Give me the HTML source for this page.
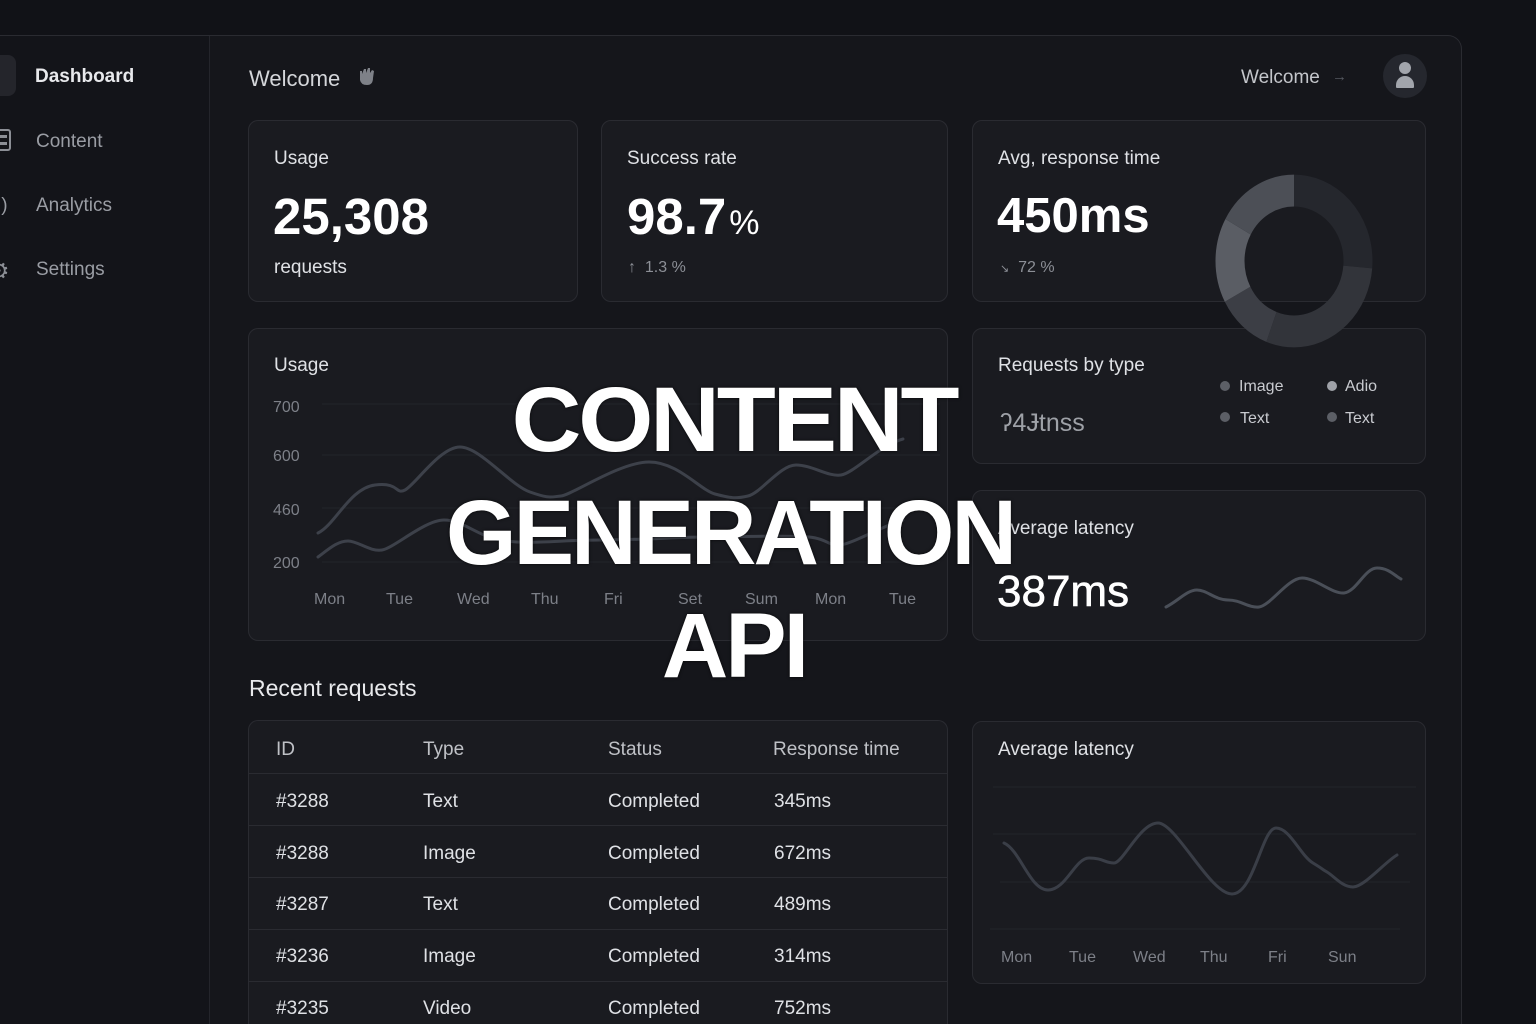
<!DOCTYPE html>
<html><head><meta charset="utf-8"><style>
*{margin:0;padding:0;box-sizing:border-box}
html,body{width:1536px;height:1024px;overflow:hidden}
body{background:#111217;font-family:"Liberation Sans",sans-serif}
#root{position:relative;width:1536px;height:1024px;background:#111217;overflow:hidden}
.abs{position:absolute;white-space:nowrap}
.panel{position:absolute;left:-20px;top:35px;width:1482px;height:989px;background:#15161b;border:1px solid #2a2b31;border-bottom:none;border-radius:14px 14px 0 0}
.side{position:absolute;left:0;top:36px;width:210px;height:988px;background:#131419;border-right:1px solid #24252b}
.card{position:absolute;background:#1a1b20;border:1px solid #2a2b31;border-radius:10px}
.t{color:#dfe1e5;font-size:19px}
.g{color:#8c8f96}
.ax{color:#7d8088;font-size:16px}
.big{color:#fff;font-weight:bold}
.title{position:absolute;left:0;text-align:center;color:#fff;font-weight:bold;font-size:92px;letter-spacing:-3px;line-height:1;text-shadow:0 0 3px rgba(0,0,0,.8)}
.row{position:absolute;left:248px;width:699px;height:1px;background:#2a2b31}
</style></head><body><div id="root">
<div class="panel"></div>
<div class="side"></div>
<!-- sidebar -->
<div class="abs" style="left:-10px;top:55px;width:26px;height:41px;background:#24252b;border-radius:8px"></div>
<div class="abs" style="left:35px;top:66px;font-size:19px;font-weight:bold;color:#e8e9ec">Dashboard</div>
<div class="abs" style="left:-6px;top:129px;width:17px;height:22px;border:2px solid #8c8f96;border-radius:3px"></div>
<div class="abs" style="left:-2px;top:135px;width:9px;height:3px;background:#8c8f96"></div>
<div class="abs" style="left:-2px;top:142px;width:9px;height:3px;background:#8c8f96"></div>
<div class="abs" style="left:36px;top:131px;font-size:19px;color:#9a9da4">Content</div>
<div class="abs" style="left:-3px;top:195px;font-size:19px;color:#9a9da4">l)</div>
<div class="abs" style="left:36px;top:195px;font-size:19px;color:#9a9da4">Analytics</div>
<div class="abs" style="left:-12px;top:257px;font-size:24px;color:#8c8f96">⚙</div>
<div class="abs" style="left:36px;top:259px;font-size:19px;color:#9a9da4">Settings</div>
<!-- header -->
<div class="abs" style="left:249px;top:66px;font-size:22px;color:#d4d6da">Welcome</div>
<svg class="abs" style="left:356px;top:66px" width="22" height="22" viewBox="0 0 22 22"><path d="M4 8 L4 5 L6 5 L6 8 L8 3 L10 3 L10 7 L12 2 L14 2 L14 7 L16 4 L18 5 L17 12 Q17 19 11 19 Q5 19 4 14 Z" fill="#7e8188"/></svg>
<div class="abs" style="left:1241px;top:67px;font-size:19px;color:#c4c6cb">Welcome</div>
<div class="abs" style="left:1332px;top:68px;font-size:15px;color:#555860">→</div>
<div class="abs" style="left:1383px;top:54px;width:44px;height:44px;border-radius:50%;background:#25272e"></div>
<div class="abs" style="left:1399px;top:62px;width:12px;height:12px;border-radius:50%;background:#a2a5ac"></div>
<div class="abs" style="left:1396px;top:76px;width:18px;height:12px;border-radius:9px 9px 1px 1px;background:#a2a5ac"></div>
<!-- top cards -->
<div class="card" style="left:248px;top:120px;width:330px;height:182px"></div>
<div class="abs t" style="left:274px;top:148px">Usage</div>
<div class="abs big" style="left:273px;top:187px;font-size:51px">25,308</div>
<div class="abs t" style="left:274px;top:257px">requests</div>
<div class="card" style="left:601px;top:120px;width:347px;height:182px"></div>
<div class="abs t" style="left:627px;top:148px">Success rate</div>
<div class="abs big" style="left:627px;top:187px;font-size:51px">98.7<span style="font-size:34px;font-weight:normal;margin-left:3px">%</span></div>
<div class="abs g" style="left:628px;top:259px;font-size:16px">↑&nbsp; 1.3 %</div>
<div class="card" style="left:972px;top:120px;width:454px;height:182px"></div>
<div class="abs t" style="left:998px;top:148px">Avg, response time</div>
<div class="abs big" style="left:997px;top:188px;font-size:49px">450ms</div>
<div class="abs g" style="left:1000px;top:259px;font-size:16px"><span style="font-size:11px">↘</span>&nbsp; 72 %</div>
<!-- usage chart -->
<div class="card" style="left:248px;top:328px;width:700px;height:313px"></div>
<div class="abs t" style="left:274px;top:355px">Usage</div>
<div class="abs ax" style="left:273px;top:399px">700</div>
<div class="abs ax" style="left:273px;top:448px">600</div>
<div class="abs ax" style="left:273px;top:502px">460</div>
<div class="abs ax" style="left:273px;top:555px">200</div>
<svg class="abs" style="left:0;top:0" width="1536" height="1024">
<g stroke="#22242a" stroke-width="1"><line x1="322" y1="404" x2="940" y2="404"/><line x1="322" y1="455" x2="940" y2="455"/><line x1="322" y1="508" x2="940" y2="508"/><line x1="322" y1="562" x2="940" y2="562"/></g>
<g fill="none" stroke="#3d414a" stroke-width="3" stroke-linecap="round">
<path d="M318,533 C335,525 350,488 375,485 S395,495 405,490 S440,447 460,447 S510,485 530,492 S550,497 561,496 S620,462 649,462 S700,490 715,494 S735,499 748,496 S780,465 796,465 S828,477 841,475 S880,445 903,439"/>
<path d="M318,557 C330,548 338,541 348,541 S370,552 382,550 S425,520 444,520 S475,535 500,540 S560,540 600,540 S680,537 704,537 S790,535 809,537 S828,546 840,545 S885,525 903,520"/>
</g>
</svg>
<div class="abs ax" style="left:314px;top:591px">Mon</div>
<div class="abs ax" style="left:386px;top:591px">Tue</div>
<div class="abs ax" style="left:457px;top:591px">Wed</div>
<div class="abs ax" style="left:531px;top:591px">Thu</div>
<div class="abs ax" style="left:604px;top:591px">Fri</div>
<div class="abs ax" style="left:678px;top:591px">Set</div>
<div class="abs ax" style="left:745px;top:591px">Sum</div>
<div class="abs ax" style="left:815px;top:591px">Mon</div>
<div class="abs ax" style="left:889px;top:591px">Tue</div>
<!-- requests by type -->
<div class="card" style="left:972px;top:328px;width:454px;height:136px"></div>
<div class="abs t" style="left:998px;top:355px">Requests by type</div>
<div class="abs" style="left:1000px;top:409px;font-size:25px;color:#9ea1a7">ʔ4Ɉtnss</div>
<div class="abs" style="left:1220px;top:381px;width:10px;height:10px;border-radius:50%;background:#5c5f66"></div>
<div class="abs" style="left:1239px;top:378px;font-size:16px;color:#c9cbd0">Image</div>
<div class="abs" style="left:1327px;top:381px;width:10px;height:10px;border-radius:50%;background:#9fa2a8"></div>
<div class="abs" style="left:1345px;top:378px;font-size:16px;color:#c9cbd0">Adio</div>
<div class="abs" style="left:1220px;top:412px;width:10px;height:10px;border-radius:50%;background:#5c5f66"></div>
<div class="abs" style="left:1240px;top:410px;font-size:16px;color:#c9cbd0">Text</div>
<div class="abs" style="left:1327px;top:412px;width:10px;height:10px;border-radius:50%;background:#5c5f66"></div>
<div class="abs" style="left:1345px;top:410px;font-size:16px;color:#c9cbd0">Text</div>
<!-- donut -->
<svg class="abs" style="left:0;top:0" width="1536" height="1024">
<g transform="translate(1294,261) scale(1,1.1) rotate(-90)" fill="none" stroke-width="29">
<circle r="64" stroke="#25272d" stroke-dasharray="106 402" stroke-dashoffset="0"/>
<circle r="64" stroke="#32343a" stroke-dasharray="118 402" stroke-dashoffset="-106"/>
<circle r="64" stroke="#3c3e45" stroke-dasharray="46 402" stroke-dashoffset="-224"/>
<circle r="64" stroke="#5a5d64" stroke-dasharray="64 402" stroke-dashoffset="-270"/>
<circle r="64" stroke="#4c4f56" stroke-dasharray="68 402" stroke-dashoffset="-334"/>
</g>
</svg>
<!-- avg latency small -->
<div class="card" style="left:972px;top:490px;width:454px;height:151px"></div>
<div class="abs t" style="left:998px;top:518px">Average latency</div>
<div class="abs" style="left:997px;top:567px;font-size:44px;color:#fff;-webkit-text-stroke:0.6px #fff">387ms</div>
<svg class="abs" style="left:0;top:0" width="1536" height="1024">
<path d="M1166,607 C1178,601 1187,590 1197,590 S1215,600 1228,600 S1248,608 1259,607 S1288,578 1302,578 S1332,594 1344,593 S1365,568 1377,568 S1395,576 1401,579" fill="none" stroke="#4a4f58" stroke-width="3" stroke-linecap="round"/>
</svg>
<!-- recent requests -->
<div class="abs" style="left:249px;top:675px;font-size:23px;color:#e8e9ec">Recent requests</div>
<div class="card" style="left:248px;top:720px;width:700px;height:304px;border-bottom:none;border-radius:10px 10px 0 0"></div>
<div class="row" style="top:773px"></div>
<div class="row" style="top:825px"></div>
<div class="row" style="top:877px"></div>
<div class="row" style="top:929px"></div>
<div class="row" style="top:981px"></div>
<div class="abs" style="left:276px;top:739px;font-size:19px;color:#bfc1c6">ID</div>
<div class="abs" style="left:423px;top:739px;font-size:19px;color:#bfc1c6">Type</div>
<div class="abs" style="left:608px;top:739px;font-size:19px;color:#bfc1c6">Status</div>
<div class="abs" style="left:773px;top:739px;font-size:19px;color:#bfc1c6">Response time</div>
<div class="abs t" style="left:276px;top:791px">#3288</div><div class="abs t" style="left:423px;top:791px">Text</div><div class="abs t" style="left:608px;top:791px">Completed</div><div class="abs t" style="left:774px;top:791px">345ms</div>
<div class="abs t" style="left:276px;top:843px">#3288</div><div class="abs t" style="left:423px;top:843px">Image</div><div class="abs t" style="left:608px;top:843px">Completed</div><div class="abs t" style="left:774px;top:843px">672ms</div>
<div class="abs t" style="left:276px;top:894px">#3287</div><div class="abs t" style="left:423px;top:894px">Text</div><div class="abs t" style="left:608px;top:894px">Completed</div><div class="abs t" style="left:774px;top:894px">489ms</div>
<div class="abs t" style="left:276px;top:946px">#3236</div><div class="abs t" style="left:423px;top:946px">Image</div><div class="abs t" style="left:608px;top:946px">Completed</div><div class="abs t" style="left:774px;top:946px">314ms</div>
<div class="abs t" style="left:276px;top:998px">#3235</div><div class="abs t" style="left:423px;top:998px">Video</div><div class="abs t" style="left:608px;top:998px">Completed</div><div class="abs t" style="left:774px;top:998px">752ms</div>
<!-- avg latency bottom -->
<div class="card" style="left:972px;top:721px;width:454px;height:263px"></div>
<div class="abs t" style="left:998px;top:739px">Average latency</div>
<svg class="abs" style="left:0;top:0" width="1536" height="1024">
<g stroke="#22242a" stroke-width="1"><line x1="993" y1="787" x2="1416" y2="787"/><line x1="993" y1="834" x2="1416" y2="834"/><line x1="1000" y1="882" x2="1410" y2="882"/><line x1="990" y1="929" x2="1400" y2="929"/></g>
<path d="M1004,843 C1020,850 1030,890 1048,890 S1075,858 1089,858 S1105,863 1114,863 S1140,823 1158,823 S1210,894 1232,894 S1262,828 1276,828 S1300,855 1313,863 S1320,868 1327,872 S1342,887 1353,887 S1385,862 1397,855" fill="none" stroke="#3a3e47" stroke-width="3" stroke-linecap="round"/>
</svg>
<div class="abs ax" style="left:1001px;top:949px">Mon</div>
<div class="abs ax" style="left:1069px;top:949px">Tue</div>
<div class="abs ax" style="left:1133px;top:949px">Wed</div>
<div class="abs ax" style="left:1200px;top:949px">Thu</div>
<div class="abs ax" style="left:1268px;top:949px">Fri</div>
<div class="abs ax" style="left:1328px;top:949px">Sun</div>
<!-- title overlay -->
<div class="title" style="top:374px;width:1468px;transform-origin:734px 0;transform:scaleX(1.05)">CONTENT</div>
<div class="title" style="top:487px;width:1460px;transform-origin:730px 0;transform:scaleX(0.985)">GENERATION</div>
<div class="title" style="top:600px;width:1468px;transform-origin:734px 0">API</div>
</div></body></html>
